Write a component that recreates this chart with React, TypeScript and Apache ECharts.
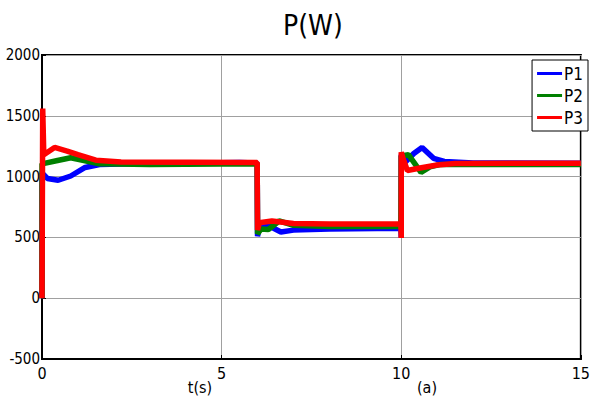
import React, { useEffect, useRef } from "react";
import * as echarts from "echarts";

const FONT = "'DejaVu Sans Condensed', 'Liberation Sans Narrow', 'Arial Narrow', sans-serif";

const xTicks = [0, 5, 10, 15];
const yTicks = [-500, 0, 500, 1000, 1500, 2000];

const p1Time = [0, 0, 0.15, 0.45, 0.8, 1.2, 1.6, 2.5, 4, 5.5, 5.99, 6.0, 6.05, 6.3, 6.65, 7, 8, 9.99, 10.0, 10.0, 10.1, 10.35, 10.58, 10.9, 11.2, 12, 15];
const p1Power = [0, 1030, 985, 970, 1005, 1075, 1100, 1105, 1110, 1115, 1112, 510, 590, 598, 545, 560, 570, 575, 500, 1180, 1115, 1190, 1240, 1150, 1125, 1112, 1110];

const p2Time = [0, 0, 0.4, 0.8, 1.2, 1.6, 3, 5.99, 6.0, 6.1, 6.3, 6.6, 7, 8, 9.99, 10.0, 10.2, 10.55, 10.8, 11.1, 15];
const p2Power = [0, 1105, 1130, 1155, 1130, 1105, 1100, 1105, 530, 570, 565, 635, 600, 590, 590, 1170, 1180, 1035, 1080, 1100, 1100];

const p3Time = [0, 0.02, 0.05, 0.35, 0.7, 1.0, 1.5, 2.2, 5.99, 6.0, 6.05, 6.4, 7, 8, 9.99, 10.0, 10.0, 10.05, 10.17, 10.6, 11, 11.5, 15];
const p3Power = [0, 1560, 1180, 1240, 1210, 1180, 1135, 1120, 1115, 560, 620, 635, 615, 610, 610, 495, 1200, 1150, 1050, 1075, 1095, 1108, 1110];

const seriesNames = ["P1", "P2", "P3"];
const seriesColors = ["#0000ff", "#008000", "#ff0000"];

const zip = (t: number[], v: number[]) => t.map((x, i) => [x, v[i]]);

export default function App() {
  const ref = useRef<HTMLDivElement>(null);
  useEffect(() => {
    if (!ref.current) return;
    const chart = echarts.init(ref.current, null, { renderer: "svg" });
    const datasets = [zip(p1Time, p1Power), zip(p2Time, p2Power), zip(p3Time, p3Power)];
    chart.setOption({
      animation: false,
      backgroundColor: "#fff",
      textStyle: { fontFamily: FONT },
      title: {
        text: "P(W)",
        left: 278,
        top: 6,
        textStyle: { fontSize: 28, fontWeight: "normal", color: "#000", fontFamily: FONT },
      },
      grid: {
        left: 42,
        right: 5.5,
        top: 55,
        bottom: 42,
        show: true,
        borderColor: "#000",
        borderWidth: 2,
        backgroundColor: "#fff",
      },
      legend: {
        data: seriesNames,
        orient: "vertical",
        right: 5,
        top: 60,
        padding: [5, 5, 5, 5],
        itemGap: 5,
        itemWidth: 25,
        itemHeight: 3,
        icon: "rect",
        borderColor: "#000",
        borderWidth: 1,
        backgroundColor: "#fff",
        textStyle: { fontSize: 17, color: "#000", fontFamily: FONT, padding: [0, 0, 0, -3] },
      },
      xAxis: {
        type: "value",
        min: xTicks[0],
        max: xTicks[xTicks.length - 1],
        interval: 5,
        axisLine: { show: true, onZero: false, lineStyle: { color: "#000", width: 2 } },
        axisTick: { show: true, inside: true, length: 4, lineStyle: { color: "#000" } },
        axisLabel: { fontSize: 16, color: "#000", margin: 6, fontFamily: FONT, formatter: (v: number) => String(v) },
        splitLine: { show: true, lineStyle: { color: "#a0a0a0", width: 1 } },
      },
      yAxis: {
        type: "value",
        min: yTicks[0],
        max: yTicks[yTicks.length - 1],
        interval: 500,
        axisLine: { show: true, onZero: false, lineStyle: { color: "#000", width: 2 } },
        axisTick: { show: true, inside: true, length: 4, lineStyle: { color: "#000" } },
        axisLabel: { fontSize: 15, color: "#000", margin: 2, fontFamily: FONT, padding: [0, 0, 3, 0], formatter: (v: number) => String(v) },
        splitLine: { show: true, lineStyle: { color: "#a0a0a0", width: 1 } },
      },
      graphic: [
        {
          type: "text",
          x: 200,
          y: 387,
          style: { text: "t(s)", fill: "#000", font: `16px ${FONT}`, textAlign: "center", textVerticalAlign: "middle" },
        },
        {
          type: "text",
          x: 427,
          y: 387,
          style: { text: "(a)", fill: "#000", font: `16px ${FONT}`, textAlign: "center", textVerticalAlign: "middle" },
        },
      ],
      series: seriesNames.map((name, i) => ({
        name,
        type: "line",
        data: datasets[i],
        showSymbol: false,
        symbol: "none",
        color: seriesColors[i],
        lineStyle: { color: seriesColors[i], width: 5.5 },
        z: 2 + i,
      })),
    });
    return () => chart.dispose();
  }, []);
  return <div ref={ref} style={{ position: "fixed", left: 0, top: 0, width: 593, height: 401 }} />;
}
